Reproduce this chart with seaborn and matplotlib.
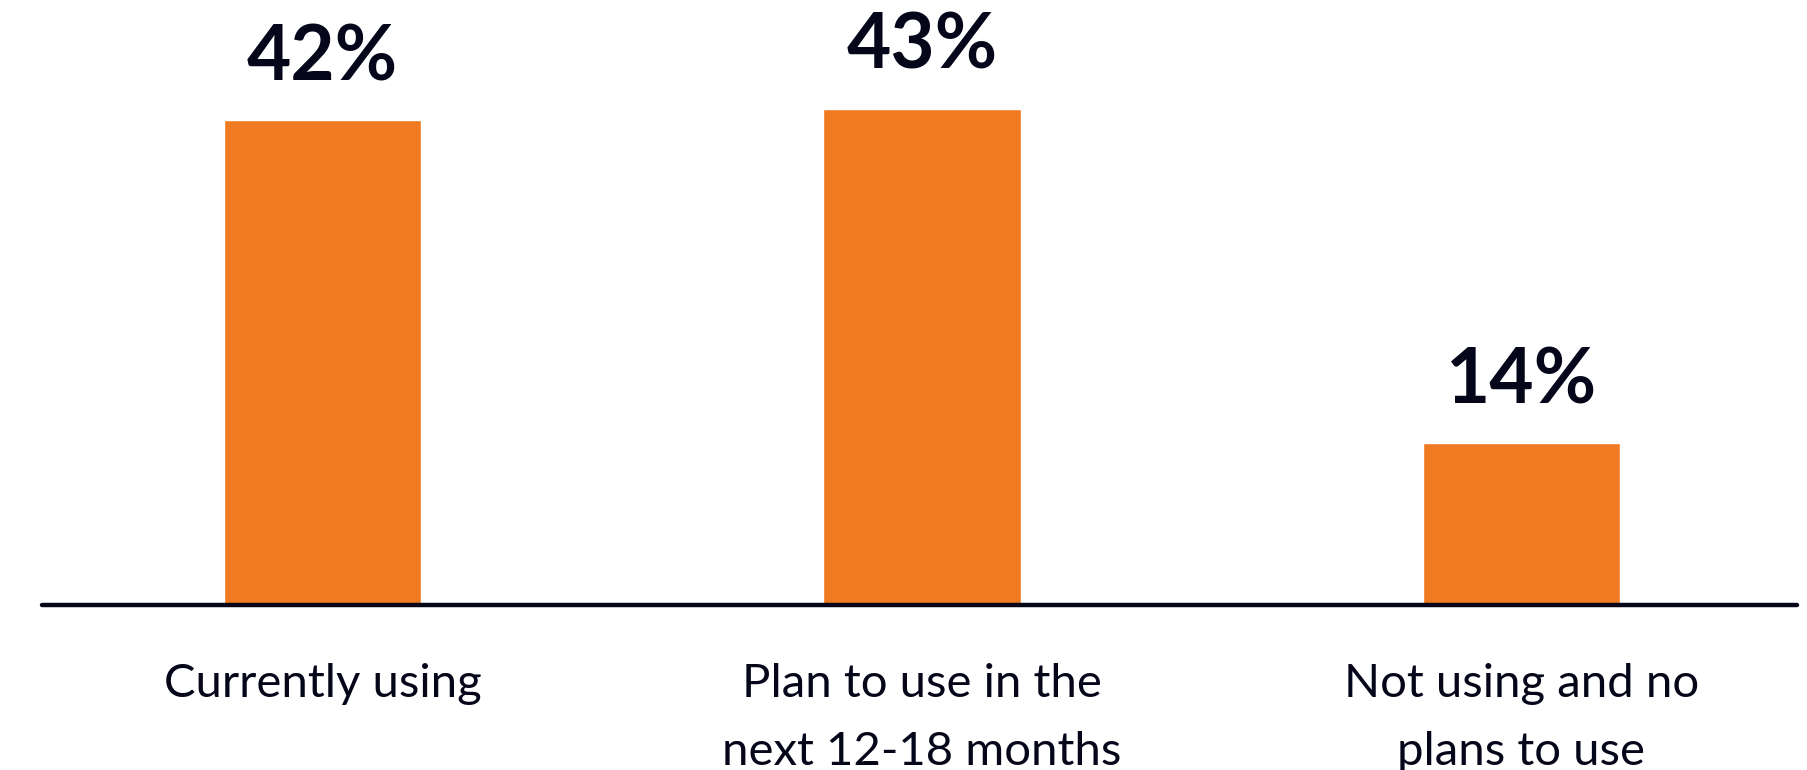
import matplotlib
matplotlib.use("Agg")
import matplotlib.pyplot as plt
import seaborn as sns
import pandas as pd

categories = ["Currently using", "Plan to use in the\nnext 12-18 months", "Not using and no\nplans to use"]
values = [42, 43, 14]
value_labels = ["42%", "43%", "14%"]

BAR = "#F07A21"
INK = "#06061A"

sns.set_theme(style="white")
plt.rcParams['font.family'] = ['Lato', 'DejaVu Sans']

W, H = 1808, 770
fig = plt.figure(figsize=(W / 100, H / 100), dpi=100)
ax = fig.add_axes([42 / W, (H - 605) / H, 1755 / W, 605 / H])

df = pd.DataFrame({"cat": categories, "val": values})
sns.barplot(data=df, x="cat", y="val", color=BAR, saturation=1, width=0.33, ax=ax)

ax.set_xlim((42 - 322.5) / 599.5, (1797 - 322.5) / 599.5)
ax.set_ylim(0, 52.4)
for s in ax.spines.values():
    s.set_visible(False)
ax.axhline(0, color=INK, lw=3.2, solid_capstyle='round', clip_on=False, zorder=5)

ax.set_yticks([])
ax.set_xlabel("")
ax.set_ylabel("")
ax.tick_params(axis='x', length=0, pad=42)
for t in ax.get_xticklabels():
    t.set_fontsize(34)
    t.set_color(INK)
    t.set_linespacing(1.75)

for i, (v, lab) in enumerate(zip(values, value_labels)):
    ax.annotate(lab, (i, v), xytext=(0, 40), textcoords='offset pixels',
                ha='center', va='baseline', fontsize=55, fontweight='bold', color=INK)

fig.savefig("out.png", dpi=100)
